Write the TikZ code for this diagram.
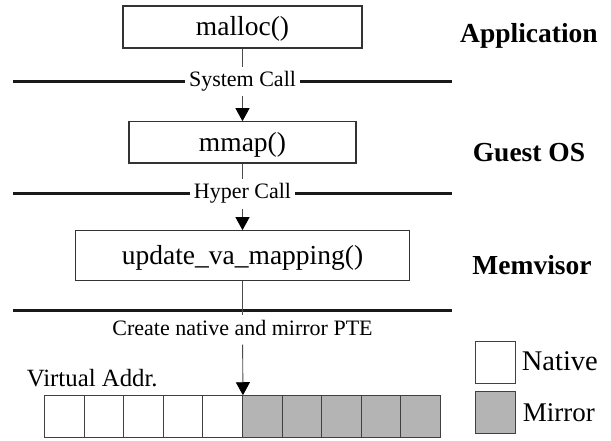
\documentclass[tikz,border=0pt]{standalone}
\usepackage{fontspec}
\setmainfont{Liberation Serif}
\usetikzlibrary{arrows.meta}
\definecolor{mirrorgray}{RGB}{180,180,180}
\begin{document}
\begin{tikzpicture}[x=1pt,y=-1pt,
  fn/.style={draw=black!80, line width=1.1pt, fill=white, inner sep=0pt,
    text height=19pt, text depth=1pt, font=\fontsize{27.5}{30}\selectfont},
  layer/.style={anchor=base, inner sep=0pt, font=\bfseries\fontsize{27.5}{30}\selectfont},
  callbl/.style={fill=white, inner xsep=4pt, inner ysep=4.5pt,
    text height=15pt, text depth=5pt, font=\fontsize{22}{24}\selectfont},
  plain/.style={anchor=base west, inner sep=0pt},
  sep/.style={line width=3pt, draw=black!90},
  conn/.style={draw=black!70, line width=0.9pt},
  arr/.style={conn, -{Triangle[width=14pt,length=13pt,color=black]}},
  cell/.style={draw=black!75, line width=0.9pt, minimum width=39.6pt,
    minimum height=41.6pt, inner sep=0pt},
]
\useasboundingbox (0,0) rectangle (611,441);

% function boxes
\node[fn, minimum width=239pt, minimum height=42pt] (malloc) at (242.5,27) {malloc()};
\node[fn, minimum width=227pt, minimum height=41.3pt] (mmap) at (242.5,142.4) {mmap()};
\node[fn, minimum width=334pt, minimum height=50pt] (update) at (242.5,255.7) {update\_va\_mapping()};

% layer names
\node[layer] (app) at (529,42.7) {Application};
\node[layer] (guest) at (529,161.7) {Guest OS};
\node[layer] (memv) at (532,274) {Memvisor};

% layer boundaries with their call labels
\node[callbl] (syscall) at (242.5,81.5) {System Call};
\coordinate (s1l) at (13,81.5);
\coordinate (s1r) at (452,81.5);
\draw[sep] (s1l) -- (syscall.west) (syscall.east) -- (s1r);

\node[callbl] (hypcall) at (242.5,194) {Hyper Call};
\coordinate (s2l) at (13,194);
\coordinate (s2r) at (452,194);
\draw[sep] (s2l) -- (hypcall.west) (hypcall.east) -- (s2r);

\coordinate (s3l) at (13,310);
\coordinate (s3r) at (452,310);
\draw[sep] (s3l) -- (s3r);
\node[callbl] (pte) at (242.5,330) {Create native and mirror PTE};

% virtual address range: native half, mirror half
\foreach \i in {0,...,4}
  \node[cell, fill=white] (c\i) at ({64.3+39.6*\i},416.5) {};
\foreach \i in {5,...,9}
  \node[cell, fill=mirrorgray] (c\i) at ({64.3+39.6*\i},416.5) {};
\node[plain, font=\fontsize{24.8}{27}\selectfont] (vaddr) at (26.7,386.7) {Virtual Addr.};

% call flow
\draw[conn] (malloc) -- (syscall);
\draw[arr] (syscall) -- (mmap);
\draw[conn] (mmap) -- (hypcall);
\draw[arr] (hypcall) -- (update);
\draw[conn] (update) -- (pte);
\draw[arr] (pte) -- (c4.north east);

% legend
\node[cell, fill=white] (lnat) at (495.3,362.5) {};
\node[cell, fill=mirrorgray] (lmir) at (495.3,412.5) {};
\node[plain, font=\fontsize{28.5}{30}\selectfont] (tnat) at (521.7,370) {Native};
\node[plain, font=\fontsize{27}{30}\selectfont] (tmir) at (522.7,421.7) {Mirror};
\end{tikzpicture}
\end{document}
